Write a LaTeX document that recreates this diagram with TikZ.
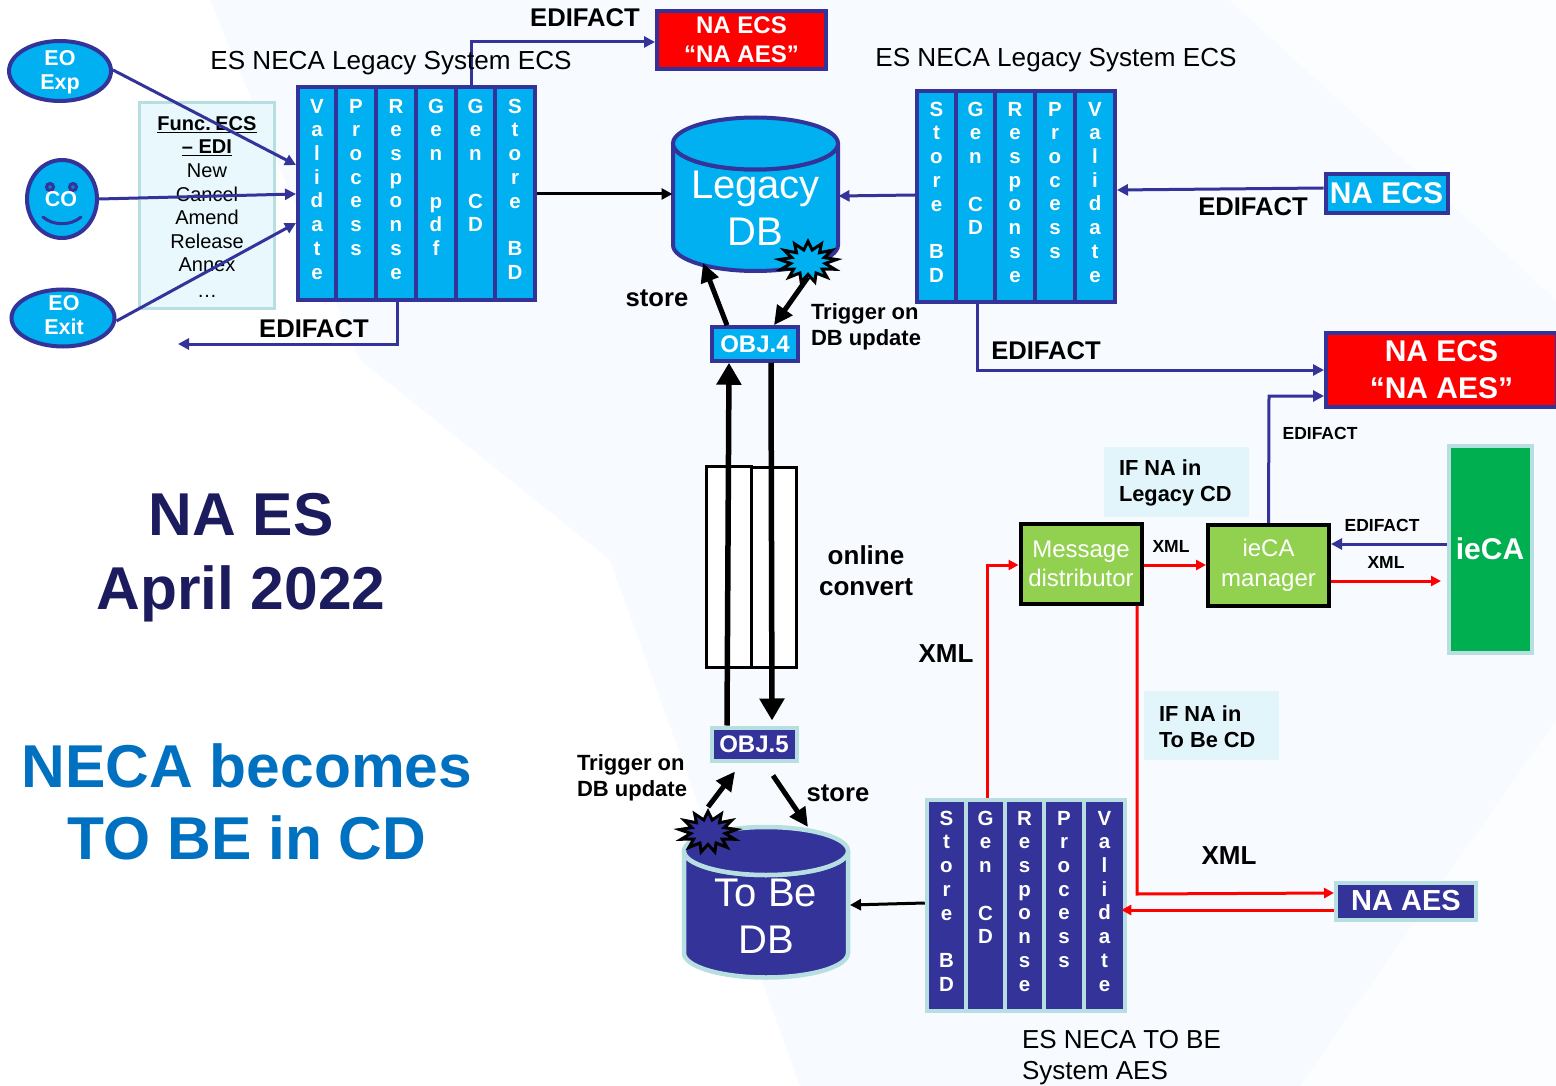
\documentclass[tikz,border=0pt]{standalone}
\usepackage{fontspec}
\setmainfont{Liberation Sans}
\usetikzlibrary{arrows.meta,shapes.geometric,calc}
\definecolor{indigo}{HTML}{333399}
\definecolor{sky}{HTML}{00B0F0}
\definecolor{pale}{HTML}{B7DEE0}
\definecolor{lime}{HTML}{92D050}
\definecolor{emer}{HTML}{00B050}
\definecolor{navyt}{HTML}{1B1B5E}
\definecolor{bluet}{HTML}{0070C0}
\definecolor{hint}{HTML}{E1F5FB}
\definecolor{bgtint}{HTML}{F7FBFF}
\newcommand{\fsz}[2]{\fontsize{#1}{#2}\selectfont}
\newcommand{\colbox}[7]{\node[#6,minimum width={(#3-#2)*1pt},minimum height={(#5-#4)*1pt},at={({(#2+#3)/2},{(#4+#5)/2})}] (#1) {#7};}
\tikzset{
  x=1pt,y=-1pt,
  lbl/.style={inner sep=0,outer sep=0,align=center,text=black},
  stackL/.style={draw=indigo,line width=4pt,fill=sky,text=white,inner sep=0,align=center,text depth=9pt,font=\bfseries\fsz{20.5}{23.7}},
  stackT/.style={draw=pale,line width=4.5pt,fill=indigo,text=white,inner sep=0,align=center,text depth=9pt,font=\bfseries\fsz{20.5}{23.7}},
  person/.style={ellipse,draw=indigo,line width=4pt,fill=sky,inner sep=0},
  persontxt/.style={lbl,text=white,font=\bfseries\fsz{21.5}{24.5}},
  boxL/.style={draw=indigo,line width=4pt,fill=sky,text=white,inner sep=0,align=center},
  redbox/.style={draw=indigo,line width=4pt,fill=red,text=white,inner sep=0,align=center},
  greenbox/.style={draw=black,line width=4pt,fill=lime,text=white,inner sep=0,align=center},
  hintbox/.style={fill=hint,inner sep=0},
  hinttxt/.style={lbl,align=left,anchor=west,font=\bfseries\fsz{21.8}{26}},
  con/.style={draw=indigo,line width=3pt,-{Triangle[length=11pt,width=11pt]}},
  conr/.style={draw=red,line width=3pt,-{Triangle[length=10pt,width=10pt]}},
  conk/.style={draw=black,line width=3pt,-{Triangle[length=11pt,width=11pt]}},
  heavy/.style={draw=black,line width=5.5pt,-{Triangle[length=22pt,width=24pt]}},
  medium/.style={draw=black,line width=5pt,-{Triangle[length=19pt,width=18pt]}},
  dbbox/.style={inner sep=0,outer sep=0,minimum width=166pt,minimum height=155pt},
  dbtxt/.style={lbl,text=white,font=\fsz{40}{47}},
  burst/.style={star,star points=13,star point ratio=1.65,draw=black,line width=3pt,inner sep=0,minimum size=41pt,transform shape,xscale=1.4},
}
\begin{document}
\begin{tikzpicture}
\useasboundingbox (0,0) rectangle (1556,1086);
% faint background
\fill[white] (0,0) rectangle (1556,1086);
\fill[bgtint] (210,0) -- (1556,0) -- (1556,1086) -- (800,1086) -- (610,560) -- (360,360) -- cycle;
\fill[white,opacity=.55] (1230,0) -- (1556,0) -- (1556,300) -- cycle;
\fill[white,opacity=.6] (1300,1086) -- (1556,720) -- (1556,1086) -- cycle;

% Func box
\node[draw=pale,line width=2.5pt,fill=hint!75!white,minimum width=135pt,minimum height=206pt,inner sep=0,at={(207,205.5)}] (func) {};
\node[lbl,font=\fsz{20}{23.6},at={(207,207)}] (functxt) {\textbf{\underline{Func.\kern-1pt\ ECS}}\\\textbf{\underline{– EDI}}\\New\\Cancel\\Amend\\Release\\Annex\\[2pt]…};

% Actors
\node[person,minimum width=102pt,minimum height=60pt,at={(60,71)}] (eoexp) {};
\node[persontxt,at={(60,72)}] (eoexpt) {EO\\Exp};
\node[person,minimum width=70pt,minimum height=78pt,at={(62,199)}] (co) {};
\draw[indigo,line width=3pt,fill=sky!60!indigo] (50,187) circle (3.5);
\draw[indigo,line width=3pt,fill=sky!60!indigo] (73,187) circle (3.5);
\draw[indigo,line width=3pt,line cap=round] (43,217) .. controls (53,226) and (71,226) .. (81,217);
\node[persontxt,at={(61,199)}] (cot) {CO};
\node[person,minimum width=103pt,minimum height=57pt,at={(63,318)}] (eoexit) {};
\node[persontxt,at={(64,315)}] (eoexitt) {EO\\Exit};

% Legacy stack left
\colbox{lval}{298}{336}{87}{300}{stackL}{V\\a\\l\\i\\d\\a\\t\\e}
\colbox{lpro}{336}{376}{87}{300}{stackL}{P\\r\\o\\c\\e\\s\\s\\~}
\colbox{lres}{376}{416}{87}{300}{stackL}{R\\e\\s\\p\\o\\n\\s\\e}
\colbox{lpdf}{416}{456}{87}{300}{stackL}{G\\e\\n\\~\\p\\d\\f\\~}
\colbox{lgcd}{456}{495}{87}{300}{stackL}{G\\e\\n\\~\\C\\D\\~\\~}
\colbox{lsto}{495}{535}{87}{300}{stackL}{S\\t\\o\\r\\e\\~\\B\\D}

% Legacy stack right
\colbox{rsto}{917}{956}{91}{302}{stackL}{S\\t\\o\\r\\e\\~\\B\\D}
\colbox{rgcd}{956}{995}{91}{302}{stackL}{G\\e\\n\\~\\C\\D\\~\\~}
\colbox{rres}{995}{1035}{91}{302}{stackL}{R\\e\\s\\p\\o\\n\\s\\e}
\colbox{rpro}{1035}{1075}{91}{302}{stackL}{P\\r\\o\\c\\e\\s\\s\\~}
\colbox{rval}{1075}{1115}{91}{302}{stackL}{V\\a\\l\\i\\d\\a\\t\\e}

% To be stack
\colbox{tsto}{927}{966}{800}{1011}{stackT}{S\\t\\o\\r\\e\\~\\B\\D}
\colbox{tgcd}{966}{1005}{800}{1011}{stackT}{G\\e\\n\\~\\C\\D\\~\\~}
\colbox{tres}{1005}{1044}{800}{1011}{stackT}{R\\e\\s\\p\\o\\n\\s\\e}
\colbox{tpro}{1044}{1084}{800}{1011}{stackT}{P\\r\\o\\c\\e\\s\\s\\~}
\colbox{tval}{1084}{1125}{800}{1011}{stackT}{V\\a\\l\\i\\d\\a\\t\\e}

% Databases
\draw[indigo,line width=4pt,fill=sky] (673,143.5) -- (673,245) arc[start angle=180,end angle=0,x radius=82.5,y radius=26] -- (838,143.5) arc[start angle=0,end angle=180,x radius=82.5,y radius=26] -- cycle;
\draw[indigo,line width=4pt,fill=sky] (755.5,143.5) ellipse [x radius=82.5,y radius=26];
\node[dbbox,at={(755.5,194.5)}] (ldb) {};
\node[dbtxt,at={(755.5,208)}] (ldbt) {Legacy\\DB};
\draw[pale,line width=4.5pt,fill=indigo] (684,851) -- (684,953) arc[start angle=180,end angle=0,x radius=82,y radius=24.5] -- (848,851) arc[start angle=0,end angle=180,x radius=82,y radius=24] -- cycle;
\draw[pale,line width=4.5pt,fill=indigo] (766,851) ellipse [x radius=82,y radius=24];
\node[dbbox,minimum width=168pt,minimum height=152pt,at={(766,903)}] (tdb) {};
\node[dbtxt,at={(766,916)}] (tdbt) {To Be\\DB};
\node[at={(808,262)},burst,fill=sky] (lburst) {};
\node[at={(708,832)},burst,fill=indigo] (tburst) {};

% Conversion
\node[draw=black,line width=3pt,fill=white,minimum width=45pt,minimum height=201pt,inner sep=0,at={(728.5,566.5)}] (conva) {};
\node[draw=black,line width=3pt,fill=white,minimum width=45pt,minimum height=200pt,inner sep=0,at={(773.5,567)}] (convb) {};

% OBJ
\node[boxL,line width=3.5pt,minimum width=86pt,minimum height=34pt,font=\bfseries\fsz{24}{28},at={(755,344)}] (obj4) {OBJ.4};
\node[draw=pale,line width=4pt,fill=indigo,text=white,inner sep=0,minimum width=85pt,minimum height=33pt,font=\bfseries\fsz{24}{28},at={(754,744)}] (obj5) {OBJ.5};

% Other boxes
\node[redbox,minimum width=169pt,minimum height=58pt,font=\bfseries\fsz{24}{29},at={(741.5,40)}] (naaes1) {NA ECS\\“NA AES”};
\node[boxL,minimum width=122pt,minimum height=39pt,font=\bfseries\fsz{30}{36},at={(1386.5,193.5)}] (naecs) {NA ECS};
\node[redbox,minimum width=231pt,minimum height=74pt,font=\bfseries\fsz{30}{37},at={(1441.5,370)}] (naaes2) {NA ECS\\“NA AES”};
\node[greenbox,minimum width=121pt,minimum height=80pt,font=\fsz{24}{29},at={(1081,564)}] (msg) {Message\\distributor};
\node[greenbox,minimum width=121pt,minimum height=81pt,font=\fsz{24}{30},at={(1268.5,565.5)}] (mgr) {ieCA\\manager};
\node[draw=pale,line width=4pt,fill=emer,text=white,inner sep=0,minimum width=83pt,minimum height=207pt,font=\bfseries\fsz{30}{36},at={(1490,549)}] (ieca) {ieCA};
\node[draw=pale,line width=4pt,fill=indigo,text=white,inner sep=0,minimum width=140pt,minimum height=37pt,font=\bfseries\fsz{29}{34},at={(1406,901)}] (naaes3) {NA AES};
\node[hintbox,minimum width=145pt,minimum height=70pt,at={(1176.5,482)}] (h1) {};
\node[hinttxt,at={(1119,483)}] (h1t) {IF NA in\\Legacy CD};
\node[hintbox,minimum width=135pt,minimum height=69pt,at={(1211.5,725.5)}] (h2) {};
\node[hinttxt,at={(1159,727)}] (h2t) {IF NA in\\To Be CD};

% Connectors
\draw[con] (eoexp.east |- 0,70) -- (lval.west |- 0,165);
\draw[con] (co.east) -- (lval.west |- 0,194);
\draw[con] (eoexit.east |- 0,321) -- (lval.west |- 0,223);
\draw[con] (lgcd.north -| 471,0) -- (471,42) -- (naaes1.west |- 0,42);
\coordinate (freeL) at (178,344);
\draw[con] (lres.south -| 397,0) -- (397,344) -- (freeL);
\draw[conk] (lsto.east |- 0,194) -- (ldb.west |- 0,194);
\draw[con] (rsto.west |- 0,195) -- (ldb.east |- 0,196);
\draw[con] (naecs.west |- 0,188) -- (rval.east |- 0,190);
\draw[con] (rgcd.south -| 977,0) -- (977,370) -- (naaes2.west |- 0,370);
\draw[con] (mgr.north) -- (1269,396) -- (naaes2.west |- 0,396);
\draw[con] (ieca.west |- 0,544) -- (mgr.east |- 0,544);
\draw[conr] (msg.east |- 0,565) -- (mgr.west |- 0,565);
\coordinate (freeX) at (1441,581);
\draw[conr] (mgr.east |- 0,581) -- (freeX);
\draw[conr] (tgcd.north -| 987,0) -- (987,565) -- (msg.west |- 0,565);
\draw[conr] (msg.south -| 1137,0) -- (1137,894) -- (naaes3.west |- 0,893);
\draw[conr] (naaes3.west |- 0,910) -- ($(tval.east |- 0,910)+(-6,0)$);
\draw[conk] (tsto.west |- 0,903) -- (tdb.east |- 0,905);
\draw[medium] (obj4.north -| 727,0) -- ($(ldb.south -| 703,0)+(0,-9)$);
\draw[medium] (lburst.south) -- (obj4.north -| 774,0);
\draw[medium] (tburst.north) -- ($(obj5.south -| 735,0)+(0,9)$);
\draw[medium] ($(obj5.south -| 773,0)+(0,13)$) -- (tdb.north -| 808,0);
\draw[heavy] (obj5.north -| 727,0) -- (obj4.south -| 729,0);
\draw[heavy,shorten >=5pt] (obj4.south -| 771,0) -- (obj5.north -| 772,0);

% Labels
\node[lbl,font=\bfseries\fsz{25.6}{30},at={(585,18)}] (e1) {EDIFACT};
\node[lbl,font=\bfseries\fsz{25.6}{30},at={(314,329)}] (e2) {EDIFACT};
\node[lbl,font=\bfseries\fsz{25.6}{30},at={(1253,207)}] (e3) {EDIFACT};
\node[lbl,font=\bfseries\fsz{25.6}{30},at={(1046,351)}] (e4) {EDIFACT};
\node[lbl,font=\bfseries\fsz{17.5}{21},at={(1320,433)}] (e5) {EDIFACT};
\node[lbl,font=\bfseries\fsz{17.5}{21},at={(1382,525)}] (e6) {EDIFACT};
\node[lbl,font=\bfseries\fsz{17.5}{21},at={(1171,546)}] (x1) {XML};
\node[lbl,font=\bfseries\fsz{17.5}{21},at={(1386,562)}] (x2) {XML};
\node[lbl,font=\bfseries\fsz{26}{30},at={(946,654)}] (x3) {XML};
\node[lbl,font=\bfseries\fsz{26}{30},at={(1229,856)}] (x4) {XML};
\node[lbl,font=\fsz{26.1}{30},at={(391,63)}] (t1) {ES NECA Legacy System ECS};
\node[lbl,font=\fsz{26.1}{30},at={(1056,60)}] (t2) {ES NECA Legacy System ECS};
\node[lbl,font=\fsz{26}{31},align=left,anchor=west,at={(1022,1058)}] (t3) {ES NECA TO BE\\System AES};
\node[lbl,font=\bfseries\fsz{25.6}{30},at={(657,298)}] (s1) {store};
\node[lbl,font=\bfseries\fsz{25.6}{30},at={(838,793)}] (s2) {store};
\node[lbl,font=\bfseries\fsz{22}{25.5},align=left,anchor=west,at={(811,327)}] (tr1) {Trigger on\\DB update};
\node[lbl,font=\bfseries\fsz{22}{25.5},align=left,anchor=west,at={(577,778)}] (tr2) {Trigger on\\DB update};
\node[lbl,font=\bfseries\fsz{26}{31},at={(866,571)}] (oc) {online\\convert};
\node[lbl,text=navyt,font=\bfseries\fsz{60.5}{74},at={(241,558)}] (title) {NA ES\\April 2022};
\node[lbl,text=bluet,font=\bfseries\fsz{60.5}{72},at={(247,802)}] (title2) {NECA becomes\\TO BE in CD};
\end{tikzpicture}
\end{document}
